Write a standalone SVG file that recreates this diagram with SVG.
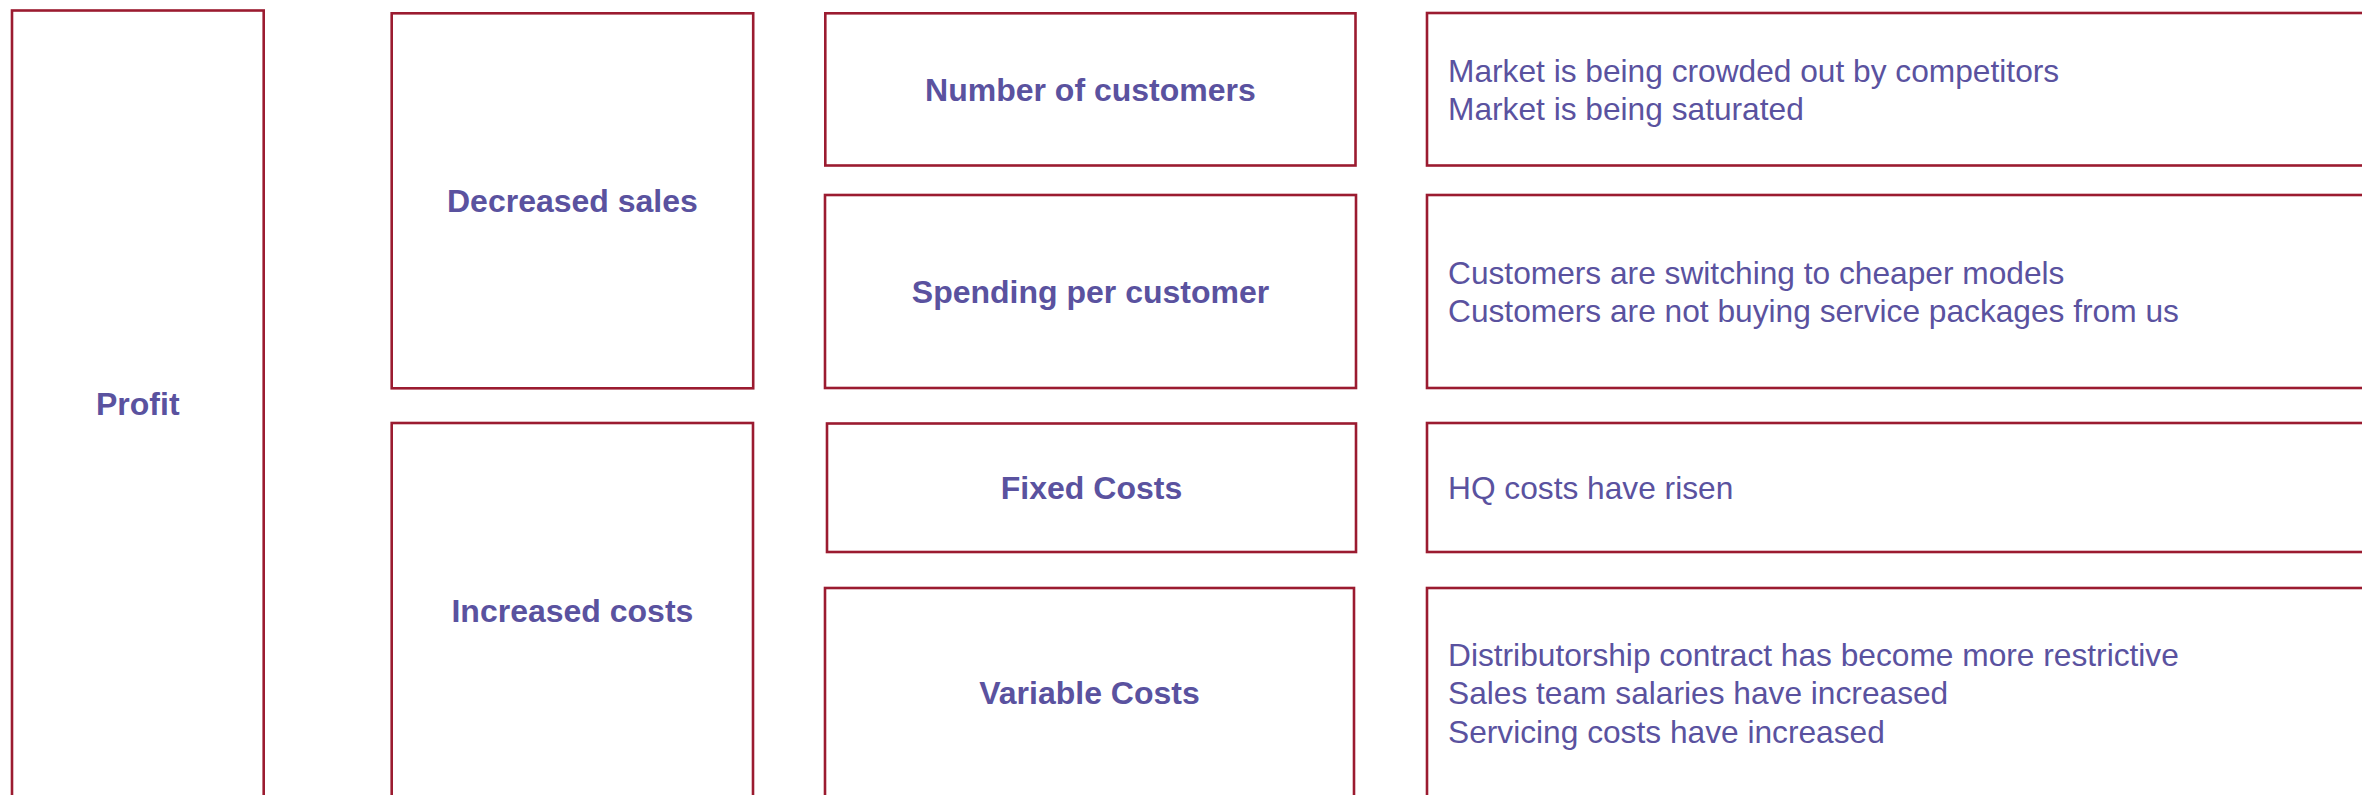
<svg xmlns="http://www.w3.org/2000/svg" width="2362" height="795" viewBox="0 0 2362 795">
<style>
.box{fill:#ffffff;stroke:#9B1B30;stroke-width:2.6}
.t{font-family:"Liberation Sans",Arial,sans-serif;font-size:31.7px;fill:#5A529F}
.b{font-weight:bold;text-anchor:middle;font-size:32px}
</style>
<rect x="0" y="0" width="2362" height="795" fill="#ffffff"/>
<g id="connectors"></g>
<g id="profit">
<rect class="box" x="12" y="10.5" width="251.7" height="787"/>
<text class="t b" x="137.8" y="414.5">Profit</text>
</g>
<g id="decreased-sales">
<rect class="box" x="391.7" y="13.3" width="361.5" height="375"/>
<text class="t b" x="572.4" y="212">Decreased sales</text>
</g>
<g id="increased-costs">
<rect class="box" x="391.7" y="423" width="361.3" height="385"/>
<text class="t b" x="572.4" y="621.5">Increased costs</text>
</g>
<g id="number-of-customers">
<rect class="box" x="825.3" y="13.3" width="530.2" height="152.2"/>
<text class="t b" x="1090.4" y="100.8">Number of customers</text>
</g>
<g id="spending-per-customer">
<rect class="box" x="825" y="195" width="531" height="193"/>
<text class="t b" x="1090.5" y="303">Spending per customer</text>
</g>
<g id="fixed-costs">
<rect class="box" x="827" y="423.5" width="529" height="128.5"/>
<text class="t b" x="1091.5" y="499.2">Fixed Costs</text>
</g>
<g id="variable-costs">
<rect class="box" x="825" y="588" width="529" height="210"/>
<text class="t b" x="1089.5" y="704">Variable Costs</text>
</g>
<g id="causes-customers">
<rect class="box" x="1427" y="13" width="960" height="152.5"/>
<text class="t" x="1448" y="81.7">Market is being crowded out by competitors</text>
<text class="t" x="1448" y="120.1">Market is being saturated</text>
</g>
<g id="causes-spending">
<rect class="box" x="1427" y="195" width="960" height="193"/>
<text class="t" x="1448" y="283.5">Customers are switching to cheaper models</text>
<text class="t" x="1448" y="321.9">Customers are not buying service packages from us</text>
</g>
<g id="causes-fixed">
<rect class="box" x="1427" y="423" width="960" height="129"/>
<text class="t" x="1448" y="499.2">HQ costs have risen</text>
</g>
<g id="causes-variable">
<rect class="box" x="1427" y="588" width="960" height="212"/>
<text class="t" x="1448" y="666">Distributorship contract has become more restrictive</text>
<text class="t" x="1448" y="704.4">Sales team salaries have increased</text>
<text class="t" x="1448" y="742.8">Servicing costs have increased</text>
</g>
</svg>
